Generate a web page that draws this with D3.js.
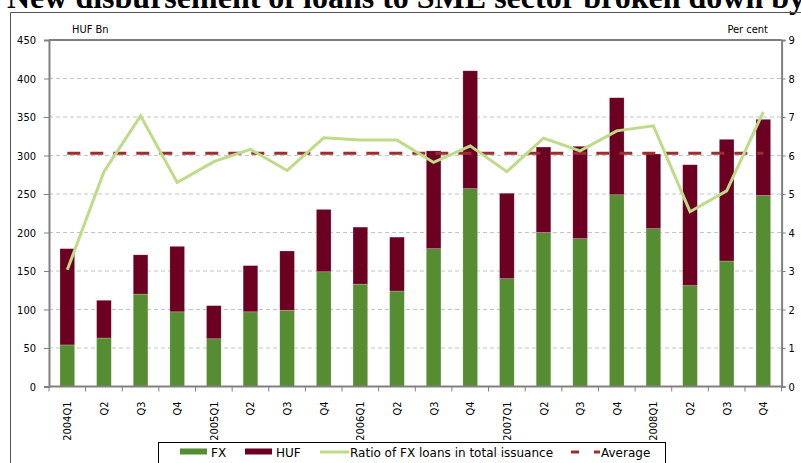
<!DOCTYPE html>
<html>
<head>
<meta charset="utf-8">
<script src="https://cdn.jsdelivr.net/npm/d3@7"></script>
<style>
  html, body { margin: 0; padding: 0; background: #fff; }
  svg { display: block; }
</style>
</head>
<body>
<div id="chart"></div>
<script>
const quarters = ["2004Q1","2004Q2","2004Q3","2004Q4","2005Q1","2005Q2","2005Q3","2005Q4",
  "2006Q1","2006Q2","2006Q3","2006Q4","2007Q1","2007Q2","2007Q3","2007Q4",
  "2008Q1","2008Q2","2008Q3","2008Q4"];
const tickLabels = ["2004Q1","Q2","Q3","Q4","2005Q1","Q2","Q3","Q4",
  "2006Q1","Q2","Q3","Q4","2007Q1","Q2","Q3","Q4",
  "2008Q1","Q2","Q3","Q4"];
const fxValues = [54,63,120,97,62,97,99,149,133,124,179,257,140,200,192,249,205,131,163,248];
const hufValues = [125,49,51,85,43,60,77,81,74,70,127,153,111,111,120,126,97,157,158,99];
const ratioValues = [3.03,5.58,7.03,5.30,5.84,6.16,5.61,6.46,6.40,6.40,5.82,6.25,5.58,6.45,6.12,6.64,6.77,4.54,5.08,7.13];
const averageValue = 6.06;
const leftTicks = [0,50,100,150,200,250,300,350,400,450];
const rightTicks = [0,1,2,3,4,5,6,7,8,9];

const W = 801, H = 463;
const plotLeft = 49, plotRight = 781.6, plotTop = 40, plotBottom = 386.5;

const GREEN = "#568c32", MAROON = "#6b0022", LIGHT = "#bedb88", AVG = "#a02d2d";
const axisFont = "'DejaVu Sans Condensed', 'DejaVu Sans', sans-serif";
const legendFont = "'DejaVu Sans', Verdana, sans-serif";

const svg = d3.select("#chart").append("svg")
  .attr("width", W)
  .attr("height", H)
  .style("background", "#fff");

// title, cut off at the top like the source
svg.append("text")
  .attr("x", 7)
  .attr("y", 8)
  .attr("font-family", "'Liberation Serif', 'Times New Roman', serif")
  .attr("font-weight", "bold")
  .attr("font-size", "32px")
  .attr("fill", "#000")
  .text("New disbursement of loans to SME sector broken down by");

// outer frame
svg.append("path")
  .attr("d", `M10.5,${H} V12.5 H${W}`)
  .attr("fill", "none")
  .attr("stroke", "#555")
  .attr("stroke-width", 1);

const table = quarters.map((q, i) => ({ q, FX: fxValues[i], HUF: hufValues[i], ratio: ratioValues[i], avg: averageValue }));

const x = d3.scaleBand().domain(quarters).range([plotLeft, plotRight]).paddingInner(0.6).paddingOuter(0.3);
const y = d3.scaleLinear().domain([0, 450]).range([plotBottom, plotTop]);
const y2 = d3.scaleLinear().domain([0, 9]).range([plotBottom, plotTop]);

// gridlines
svg.append("g").selectAll("line")
  .data(leftTicks.filter(t => t > 0 && t < 450))
  .enter().append("line")
  .attr("x1", plotLeft).attr("x2", plotRight)
  .attr("y1", d => y(d)).attr("y2", d => y(d))
  .attr("stroke", "#c4c4c4")
  .attr("stroke-width", 1)
  .attr("stroke-dasharray", "4,3");

// top border of the plot
svg.append("line")
  .attr("x1", plotLeft).attr("x2", plotRight)
  .attr("y1", y(450)).attr("y2", y(450))
  .attr("stroke", "#000").attr("stroke-width", 1.2);

// stacked bars
const stacked = d3.stack().keys(["FX", "HUF"])(table);
const colors = { FX: GREEN, HUF: MAROON };
svg.append("g").selectAll("g")
  .data(stacked)
  .enter().append("g")
  .attr("fill", d => colors[d.key])
  .selectAll("rect")
  .data(d => d)
  .enter().append("rect")
  .attr("x", d => x(d.data.q))
  .attr("width", x.bandwidth())
  .attr("y", d => y(d[1]))
  .attr("height", d => y(d[0]) - y(d[1]))
  .attr("stroke", "rgba(255,255,255,0.35)")
  .attr("stroke-width", 0.6);

// average line
const cx = d => x(d.q) + x.bandwidth() / 2;
svg.append("path")
  .datum(table)
  .attr("d", d3.line().x(cx).y(d => y2(d.avg)))
  .attr("fill", "none")
  .attr("stroke", AVG)
  .attr("stroke-width", 3)
  .attr("stroke-dasharray", "13,10");

// ratio line
svg.append("path")
  .datum(table)
  .attr("d", d3.line().x(cx).y(d => y2(d.ratio)))
  .attr("fill", "none")
  .attr("stroke", LIGHT)
  .attr("stroke-width", 3)
  .attr("stroke-linejoin", "miter");

// axes
const leftAxis = svg.append("g")
  .attr("transform", `translate(${plotLeft},0)`)
  .call(d3.axisLeft(y).tickValues(leftTicks).tickSize(5).tickPadding(8));
const rightAxis = svg.append("g")
  .attr("transform", `translate(${plotRight},0)`)
  .call(d3.axisRight(y2).tickValues(rightTicks).tickSize(4).tickPadding(3));
[leftAxis, rightAxis].forEach(g => {
  g.select(".domain").attr("stroke", "#808080").attr("stroke-width", 2);
  g.selectAll(".tick line").attr("stroke", "#808080");
  g.selectAll("text").attr("font-family", axisFont).attr("font-size", "11px").attr("fill", "#000");
});

const bottomAxis = svg.append("g")
  .attr("transform", `translate(0,${plotBottom})`);
bottomAxis.append("line")
  .attr("x1", plotLeft).attr("x2", plotRight)
  .attr("stroke", "#808080").attr("stroke-width", 2);
bottomAxis.selectAll(".xtick")
  .data(d3.range(quarters.length + 1))
  .enter().append("line")
  .attr("x1", i => plotLeft + i * x.step()).attr("x2", i => plotLeft + i * x.step())
  .attr("y1", 0).attr("y2", 5)
  .attr("stroke", "#808080");
bottomAxis.selectAll(".xlabel")
  .data(quarters)
  .enter().append("text")
  .attr("transform", (q) => `translate(${x(q) + x.bandwidth() / 2 + 4},15) rotate(-90)`)
  .attr("text-anchor", "end")
  .attr("font-family", axisFont)
  .attr("font-size", "11px")
  .attr("fill", "#000")
  .text((q, i) => tickLabels[i]);

// unit labels
svg.append("text").attr("x", 72).attr("y", 33)
  .attr("font-family", axisFont).attr("font-size", "11px").text("HUF Bn");
svg.append("text").attr("x", 768).attr("y", 33).attr("text-anchor", "end")
  .attr("font-family", axisFont).attr("font-size", "11px").text("Per cent");

// legend
const legend = svg.append("g");
legend.append("rect")
  .attr("x", 158.5).attr("y", 442.5)
  .attr("width", 507).attr("height", 30)
  .attr("fill", "#fff").attr("stroke", "#000");

const legendItems = [
  { label: "FX", type: "rect", color: GREEN, x: 180 },
  { label: "HUF", type: "rect", color: MAROON, x: 245 },
  { label: "Ratio of FX loans in total issuance", type: "line", color: LIGHT, x: 320 },
  { label: "Average", type: "dash", color: AVG, x: 571 }
];
legendItems.forEach(item => {
  if (item.type === "rect") {
    legend.append("rect").attr("x", item.x).attr("y", 448.5).attr("width", 27).attr("height", 6).attr("fill", item.color);
  } else {
    legend.append("line").attr("x1", item.x).attr("x2", item.x + 29)
      .attr("y1", 452).attr("y2", 452)
      .attr("stroke", item.color).attr("stroke-width", 3)
      .attr("stroke-dasharray", item.type === "dash" ? "8,15" : null);
  }
  legend.append("text")
    .attr("x", item.x + (item.type === "rect" ? 31 : 30))
    .attr("y", 456.5)
    .attr("font-family", legendFont)
    .attr("font-size", "12px")
    .attr("fill", "#000")
    .text(item.label);
});
</script>
</body>
</html>
